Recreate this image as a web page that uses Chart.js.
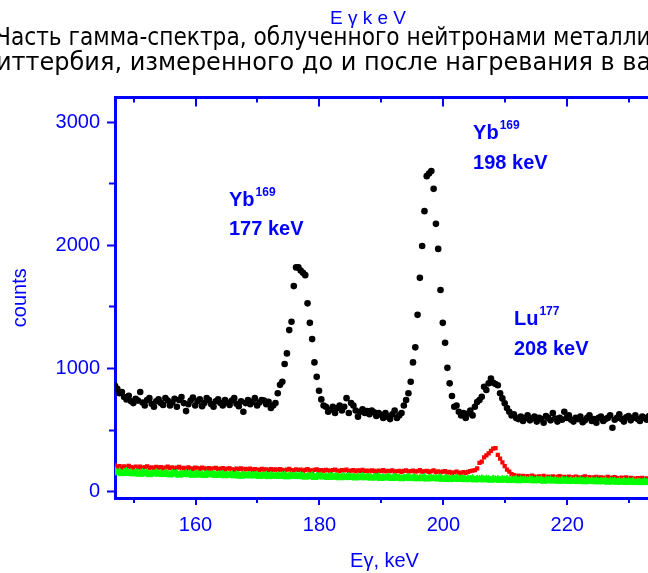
<!DOCTYPE html>
<html>
<head>
<meta charset="utf-8">
<script src="https://cdn.jsdelivr.net/npm/chart.js@4.4.1/dist/chart.umd.min.js"></script>
<style>
  html, body { margin: 0; padding: 0; background: #fff; overflow: hidden; }
  #wrap { position: absolute; left: -4px; top: 0; width: 744px; height: 573px; }
</style>
</head>
<body>
<div id="wrap"><canvas id="spectrum"></canvas></div>
<script>
// detector channel calibration, keV
const channelStart = 147.0;
const keVPerChannel = 0.37;

// black circles
const blackCounts = [
  860, 835, 800, 810, 770, 750, 780, 735, 720, 755,
  740, 810, 725, 700, 745, 760, 715, 690, 735, 750,
  720, 705, 760, 740, 700, 725, 755, 690, 745, 770,
  720, 655, 710, 740, 765, 700, 735, 750, 695, 720,
  760, 745, 710, 690, 735, 750, 720, 700, 745, 725,
  705, 740, 760, 715, 695, 735, 650, 720, 745, 710,
  730, 760, 700, 725, 745, 740, 710, 730, 680, 700,
  720, 800, 868, 893, 1037, 1123, 1312, 1380, 1669, 1821,
  1821, 1795, 1777, 1758, 1529, 1371, 1239, 1050, 933, 820,
  750, 700, 690, 650, 665, 690, 640, 680, 700, 660,
  690, 760, 640, 720, 700, 660, 610, 650, 670, 640,
  655, 630, 660, 645, 615, 640, 625, 600, 640, 610,
  590, 630, 660, 600, 620, 640, 700, 745, 800, 893,
  1050, 1172, 1436, 1736, 1994, 2277, 2561, 2583, 2602, 2458,
  2174, 1971, 1637, 1371, 1209, 1006, 880, 777, 690, 700,
  650, 620, 640, 600, 635, 660, 620, 690, 729, 745,
  771, 852, 826, 880, 920, 885, 875, 865, 800, 758,
  718, 680, 650, 620, 630, 600, 590, 610, 575, 600,
  620, 580, 595, 610, 570, 600, 590, 560, 615, 600,
  580, 640, 595, 570, 600, 585, 650, 600, 620, 585,
  570, 600, 590, 610, 565, 580, 600, 620, 575, 590,
  560, 600, 610, 575, 590, 600, 620, 520, 585, 600,
  630, 590, 570, 605, 615, 580, 600, 620, 590, 575,
  610, 600, 585, 615, 600
];

// red squares
const redCounts = [
  215, 200, 208, 195, 206, 198, 210, 200, 194, 205,
  196, 204, 192, 201, 207, 195, 199, 190, 203, 197,
  200, 189, 197, 205, 193, 198, 188, 196, 202, 191,
  195, 187, 199, 190, 186, 197, 192, 184, 196, 191,
  186, 193, 182, 190, 195, 184, 188, 192, 181, 189,
  190, 183, 178, 188, 184, 191, 180, 186, 182, 189,
  178, 185, 181, 176, 187, 180, 183, 175, 184, 179,
  182, 176, 185, 179, 172, 181, 186, 177, 174, 183,
  176, 180, 171, 178, 184, 175, 170, 179, 182, 173,
  177, 170, 179, 174, 168, 176, 181, 172, 169, 177,
  174, 180, 169, 172, 177, 166, 175, 171, 178, 168,
  172, 166, 175, 170, 164, 173, 168, 176, 165, 171,
  169, 174, 163, 167, 171, 162, 170, 175, 165, 168,
  172, 164, 168, 177, 163, 166, 170, 161, 167, 174,
  160, 166, 158, 164, 169, 155, 162, 150, 158, 165,
  156, 148, 160, 153, 162, 168, 172, 176, 190, 235,
  245, 280, 295, 312, 333, 350, 355, 300, 270, 240,
  209, 180, 163, 144, 135, 128, 132, 125, 130, 122,
  127, 120, 131, 124, 118, 126, 121, 129, 116, 123,
  119, 126, 114, 122, 128, 117, 121, 113, 124, 118,
  115, 123, 118, 112, 120, 126, 114, 119, 111, 117,
  122, 113, 118, 110, 116, 121, 108, 115, 119, 112,
  109, 116, 111, 118, 106, 113, 110, 104, 112, 108,
  114, 105, 110, 103, 108
];

// green triangles
const greenCounts = [
  170, 155, 162, 148, 158, 165, 150, 157, 146, 160,
  152, 143, 158, 149, 155, 140, 151, 147, 156, 144,
  150, 141, 153, 146, 138, 152, 145, 149, 136, 148,
  143, 150, 139, 146, 135, 144, 148, 137, 142, 133,
  145, 138, 141, 147, 134, 140, 136, 143, 131, 139,
  137, 142, 130, 138, 134, 127, 140, 133, 136, 129,
  135, 131, 138, 126, 133, 129, 136, 124, 132, 130,
  128, 134, 125, 131, 136, 122, 129, 133, 126, 130,
  124, 131, 127, 120, 129, 125, 132, 118, 126, 123,
  129, 121, 125, 117, 128, 122, 119, 126, 115, 124,
  120, 116, 125, 118, 122, 113, 121, 117, 124, 114,
  119, 123, 112, 118, 115, 121, 110, 117, 113, 120,
  114, 109, 118, 112, 116, 107, 115, 111, 118, 108,
  113, 117, 106, 112, 109, 115, 104, 111, 114, 107,
  110, 105, 113, 102, 108, 111, 100, 107, 104, 109,
  101, 106, 110, 99, 105, 102, 108, 97, 104, 100,
  106, 98, 103, 100, 95, 104, 99, 102, 94, 101,
  97, 103, 92, 99, 96, 101, 90, 98, 94, 97,
  92, 99, 95, 89, 96, 93, 98, 87, 94, 91,
  96, 88, 93, 90, 86, 94, 89, 92, 85, 91,
  87, 93, 84, 90, 88, 82, 91, 86, 89, 83,
  88, 81, 86, 84, 90, 79, 85, 82, 87, 78,
  84, 80, 86, 77, 83, 79, 85, 76, 81, 78,
  75, 82, 77, 80, 73
];

const xTickValues = [150, 160, 170, 180, 190, 200, 210, 220, 230];
const xTickLabels = [160, 180, 200, 220];
const yTickValues = [0, 500, 1000, 1500, 2000, 2500, 3000];
const yTickLabels = [0, 1000, 2000, 3000];

const titleLines = [
  'Часть гамма-спектра, облученного нейтронами металлического',
  'иттербия, измеренного до и после нагревания в вакууме'
];

const peakNuclides = ['Yb', 'Yb', 'Lu'];
const peakMasses = ['169', '169', '177'];
const peakEnergies = ['177 keV', '198 keV', '208 keV'];
// where each note's first line sits, in keV / counts
const noteAnchors = [[165.4, 2320], [204.8, 2862], [211.4, 1350]];

const blue = '#0000ff';
const sans = '"Liberation Sans", Arial, sans-serif';

function toPoints(counts) {
  return counts.map((c, i) => ({ x: channelStart + i * keVPerChannel, y: c }));
}

const isMinor = (ctx, labels) => ctx.tick && !labels.includes(ctx.tick.value);

const peakNotes = {
  id: 'peakNotes',
  afterDatasetsDraw(chart) {
    const { ctx, scales } = chart;
    ctx.save();
    ctx.fillStyle = blue;
    ctx.textAlign = 'left';
    ctx.textBaseline = 'alphabetic';
    noteAnchors.forEach((a, i) => {
      const px = scales.x.getPixelForValue(a[0]);
      const py = scales.y.getPixelForValue(a[1]);
      ctx.font = 'bold 20px ' + sans;
      ctx.fillText(peakNuclides[i], px, py);
      const w = ctx.measureText(peakNuclides[i]).width;
      ctx.fillText(peakEnergies[i], px, py + 29.5);
      ctx.font = 'bold 12px ' + sans;
      ctx.fillText(peakMasses[i], px + w + 1, py - 10);
    });
    ctx.restore();
  }
};

new Chart(document.getElementById('spectrum'), {
  type: 'scatter',
  data: {
    datasets: [
      {
        data: toPoints(blackCounts),
        pointStyle: 'circle',
        pointRadius: 3.3,
        pointBackgroundColor: '#000000',
        pointBorderWidth: 0
      },
      {
        data: toPoints(greenCounts),
        pointStyle: 'triangle',
        pointRadius: 4.2,
        pointBackgroundColor: '#00ff00',
        pointBorderColor: '#00ff00',
        pointBorderWidth: 1
      },
      {
        data: toPoints(redCounts),
        pointStyle: 'rect',
        pointRadius: 3,
        pointBackgroundColor: '#ff0000',
        pointBorderWidth: 0
      }
    ]
  },
  options: {
    responsive: true,
    maintainAspectRatio: false,
    animation: false,
    events: [],
    plugins: {
      legend: { display: false },
      tooltip: { enabled: false },
      subtitle: {
        display: true,
        text: 'E γ k e V',
        color: blue,
        weight: 3000,
        align: 'center',
        font: { family: sans, size: 19, weight: 'normal', lineHeight: 1 },
        padding: { top: 9, bottom: 0 }
      },
      title: {
        display: true,
        text: titleLines,
        color: '#000000',
        align: 'start',
        font: { family: '"DejaVu Sans", sans-serif', size: 24, weight: 'normal', lineHeight: 1.05 },
        padding: { top: -2, bottom: 21 }
      }
    },
    scales: {
      x: {
        type: 'linear',
        position: 'bottom',
        min: 147,
        max: 234,
        afterBuildTicks: (axis) => { axis.ticks = xTickValues.map(v => ({ value: v })); },
        afterFit: (axis) => { axis.height = 75; },
        ticks: {
          autoSkip: false,
          maxRotation: 0,
          padding: 8,
          color: blue,
          font: { family: sans, size: 20 },
          callback: (v) => xTickLabels.includes(v) ? String(v) : ''
        },
        grid: {
          drawOnChartArea: true,
          drawTicks: true,
          tickLength: 7,
          color: blue,
          lineWidth: 2,
          tickColor: blue,
          tickWidth: 2,
          tickBorderDash: (ctx) => isMinor(ctx, xTickLabels) ? [3, 100] : []
        },
        border: {
          display: true,
          color: blue,
          width: 3,
          dash: (ctx) => isMinor(ctx, xTickLabels) ? [5, 1000] : [9, 1000]
        },
        title: {
          display: true,
          text: 'Eγ, keV',
          color: blue,
          font: { family: sans, size: 20 },
          padding: { top: 0, bottom: 0 }
        }
      },
      xTop: {
        type: 'linear',
        position: 'top',
        min: 147,
        max: 234,
        ticks: { display: false },
        grid: { display: false, drawTicks: false },
        border: { display: true, color: blue, width: 3 }
      },
      y: {
        type: 'linear',
        position: 'left',
        min: -50,
        max: 3200,
        afterBuildTicks: (axis) => { axis.ticks = yTickValues.map(v => ({ value: v })); },
        afterFit: (axis) => { axis.width = 119; },
        ticks: {
          autoSkip: false,
          padding: 7,
          color: blue,
          font: { family: sans, size: 20 },
          callback: (v) => yTickLabels.includes(v) ? String(v) : ''
        },
        grid: {
          drawOnChartArea: false,
          drawTicks: true,
          tickLength: 8,
          tickColor: blue,
          tickWidth: 2,
          tickBorderDash: (ctx) => isMinor(ctx, yTickLabels) ? [0, 2, 10] : []
        },
        border: { display: true, color: blue, width: 3 },
        title: {
          display: true,
          text: 'counts',
          color: blue,
          font: { family: sans, size: 20 },
          padding: { top: 12, bottom: 0 }
        }
      },
      yRight: {
        type: 'linear',
        position: 'right',
        min: -50,
        max: 3200,
        afterFit: (axis) => { axis.width = 86; },
        ticks: { display: false },
        grid: { display: false, drawTicks: false },
        border: { display: true, color: blue, width: 3 }
      }
    }
  },
  plugins: [peakNotes]
});
</script>
</body>
</html>
